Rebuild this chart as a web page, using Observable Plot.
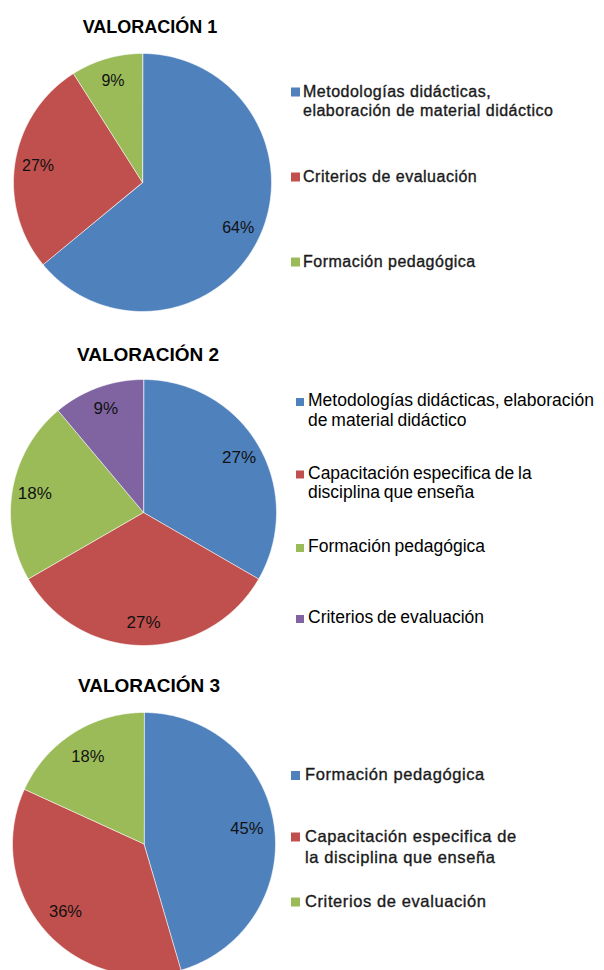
<!DOCTYPE html>
<html><head><meta charset="utf-8">
<script src="https://cdn.jsdelivr.net/npm/d3@7"></script>
<script src="https://cdn.jsdelivr.net/npm/@observablehq/plot@0.6"></script>
<style>
html,body{margin:0;padding:0;background:#fff;overflow:hidden}
#root{position:relative;width:604px;height:970px;overflow:hidden;background:#fff}
#root svg{position:absolute;left:0}
</style></head><body><div id="root"></div>
<script>
// ---- data ----
const titles = ["VALORACIÓN 1", "VALORACIÓN 2", "VALORACIÓN 3"];
const categories1 = ["Metodologías didácticas,\nelaboración de material didáctico", "Criterios de evaluación", "Formación pedagógica"];
const values1 = [64, 27, 9];
const categories2 = ["Metodologías didácticas, elaboración\nde material didáctico", "Capacitación especifica de la\ndisciplina que enseña", "Formación pedagógica", "Criterios de evaluación"];
const values2 = [27, 27, 18, 9];
const categories3 = ["Formación pedagógica", "Capacitación especifica de\nla disciplina que enseña", "Criterios de evaluación"];
const values3 = [45, 36, 18];

// ---- styles / layout ----
const palette = ["#4F81BD", "#C0504D", "#9BBB59", "#8064A2"];
const FONT = "Arial, 'Liberation Sans', sans-serif";
const root = document.getElementById("root");

function pieChart(values, cfg) {
  const arcs = d3.pie().sort(null).startAngle(0).endAngle(2 * Math.PI)(values);
  const pts = [];
  arcs.forEach((a, i) => {
    const n = Math.max(2, Math.ceil((a.endAngle - a.startAngle) / (Math.PI / 360)));
    pts.push({k: i, x: 0, y: 0});
    for (let j = 0; j <= n; j++) {
      const t = a.startAngle + (a.endAngle - a.startAngle) * j / n;
      pts.push({k: i, x: Math.sin(t), y: Math.cos(t)});
    }
  });
  const labels = arcs.map((a, i) => {
    const m = (a.startAngle + a.endAngle) / 2;
    return {x: cfg.lf * Math.sin(m), y: cfg.lf * Math.cos(m), t: values[i] + "%"};
  });
  const svg = Plot.plot({
    width: 290, height: cfg.h, margin: 0,
    style: {fontFamily: FONT, background: "transparent"},
    x: {domain: [-1, 1], range: [cfg.cx - cfg.r, cfg.cx + cfg.r], axis: null},
    y: {domain: [-1, 1], range: [cfg.cy + cfg.r, cfg.cy - cfg.r], axis: null},
    color: {type: "identity"},
    marks: [
      Plot.line(pts, {x: "x", y: "y", z: "k", fill: d => palette[d.k], stroke: "white",
        strokeWidth: 1, strokeOpacity: 0.6, curve: "linear-closed"}),
      Plot.text(labels, {x: "x", y: "y", text: "t", fontSize: cfg.fs, fill: "#111"})
    ]
  });
  svg.style.top = cfg.top + "px";
  root.appendChild(svg);
}

pieChart(values1, {top: 0, h: 320, cx: 142, cy: 182, r: 129, lf: 0.82, fs: 16});
pieChart(values2, {top: 330, h: 320, cx: 143, cy: 182, r: 133, lf: 0.83, fs: 17});
pieChart(values3, {top: 660, h: 310, cx: 143.5, cy: 183.5, r: 131.5, lf: 0.79, fs: 16.5});

// ---- titles & legends (overlay) ----
const ov = d3.select(root).append("svg").attr("width", 604).attr("height", 970)
  .style("top", "0px").style("font-family", FONT);

const titleCfg = [{x: 150, y: 33, fs: 18}, {x: 148, y: 360.5, fs: 19}, {x: 149, y: 691.5, fs: 19}];
titles.forEach((t, i) => {
  ov.append("text").attr("x", titleCfg[i].x).attr("y", titleCfg[i].y)
    .attr("text-anchor", "middle").attr("font-weight", "bold")
    .attr("font-size", titleCfg[i].fs).attr("fill", "#000").text(t);
});

function legend(cats, cfg) {
  cats.forEach((c, i) => {
    const b = cfg.base[i];
    ov.append("rect").attr("x", cfg.sx).attr("y", b - cfg.sq).attr("width", cfg.sq).attr("height", cfg.sq)
      .attr("fill", palette[i]);
    c.split("\n").forEach((line, j) => {
      ov.append("text").attr("x", cfg.tx).attr("y", b + j * cfg.lh)
        .attr("font-size", cfg.fs).attr("letter-spacing", cfg.ls).attr("word-spacing", cfg.ws || 0)
        .attr("fill", cfg.color).attr("stroke", cfg.stroke || "none").attr("stroke-width", cfg.sw || 0)
        .text(line);
    });
  });
}
legend(categories1, {sx: 291, sq: 9, tx: 303, base: [96.5, 181.5, 266.5], lh: 19, fs: 16, ls: 0.5,
  color: "#1a1a1a", stroke: "#1a1a1a", sw: 0.35});
legend(categories2, {sx: 296, sq: 8, tx: 308, base: [406, 478.5, 552, 623], lh: 19.5, fs: 17.5, ls: 0, ws: -1,
  color: "#000"});
legend(categories3, {sx: 291, sq: 9, tx: 305, base: [780, 841.5, 906.5], lh: 21.5, fs: 16.5, ls: 0.6,
  color: "#1a1a1a", stroke: "#1a1a1a", sw: 0.35});
</script></body></html>
